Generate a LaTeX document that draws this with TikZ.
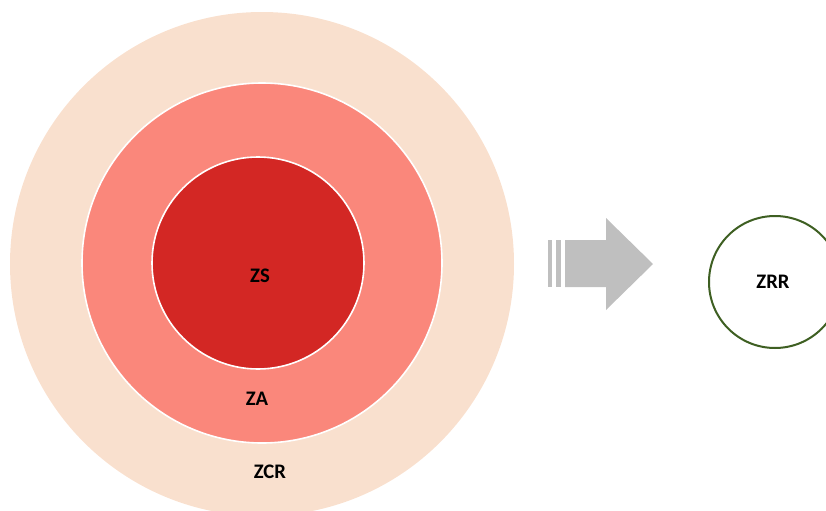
\documentclass[tikz,border=0pt]{standalone}
\usepackage{fontspec}
\setmainfont{Carlito}
\usetikzlibrary{positioning}
\definecolor{crC}{HTML}{F9E0CE}
\definecolor{zaC}{HTML}{FA877B}
\definecolor{zsC}{HTML}{D32724}
\definecolor{arrC}{HTML}{BFBFBF}
\definecolor{rrC}{HTML}{3E5F22}

\begin{document}
\begin{tikzpicture}[
  x=0.75pt, y=-0.75pt,
  every node/.style={font=\bfseries\fontsize{15.5}{17}\selectfont, text=black},
  zone/.style={circle, fill=#1, draw=white, line width=1.2pt, inner sep=0pt},
  tag/.style={inner sep=0pt},
]

\clip (0,0) rectangle (826,511);

% ── Nested zones (sizes in pt: px * 0.75) ──
\node[zone=crC, draw=none, minimum size=378pt] (zcr) at (262,264) {};
\node[zone=zaC, minimum size=270pt] (za) at (262,263) {};
\node[zone=zsC, minimum size=159pt] (zs) at (258,263) {};

% ── Zone labels ──
\node[tag] (lzs) at (260,276) {ZS};
\node[tag] (lza) at (257,399) {ZA};
\node[tag] (lzcr) at (270,472) {ZCR};

% ── Block arrow with striped tail ──
\fill[arrC] (565,240) -- (606,240) -- (606,218) -- (653,264)
  -- (606,310) -- (606,287) -- (565,287) -- cycle;
\fill[arrC] (548,240) rectangle (552,287);
\fill[arrC] (556,240) rectangle (561,287);

% ── Target zone ──
\node[circle, draw=rrC, line width=1.5pt, fill=white,
      minimum size=99pt, inner sep=0pt] (zrr) at (775,282) {};
\node[tag] (lzrr) at (773,282) {ZRR};

\end{tikzpicture}
\end{document}
